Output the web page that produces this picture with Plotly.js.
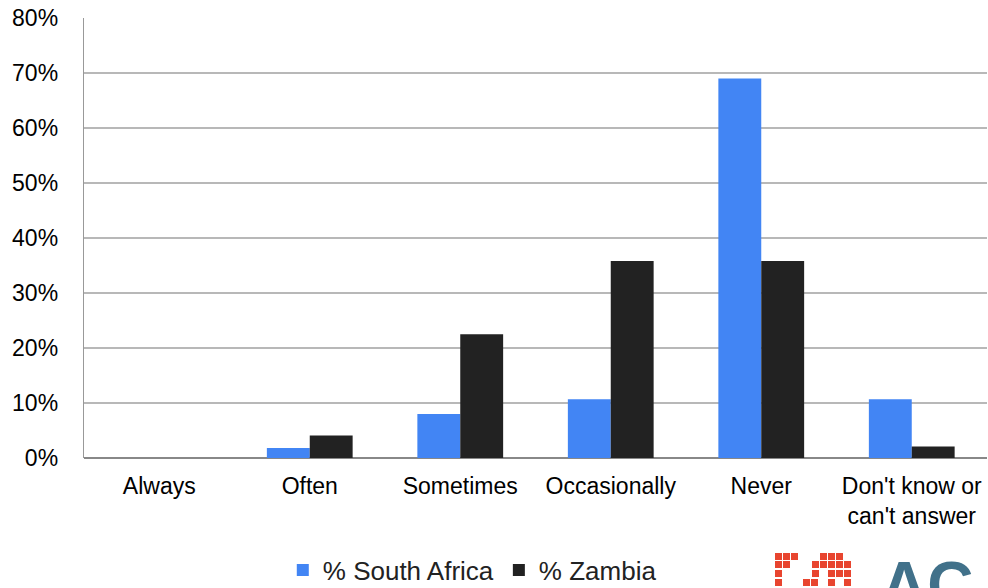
<!DOCTYPE html>
<html>
<head>
<meta charset="utf-8">
<script src="https://cdn.plot.ly/plotly-3.0.1.min.js"></script>
<style>html,body{margin:0;padding:0;background:#fff;}#chart{width:988px;height:588px;}</style>
</head>
<body>
<div id="chart"></div>
<script>
var categories = ["Always", "Often", "Sometimes", "Occasionally", "Never", "Don't know or<br>can't answer"];
var southAfrica = [0, 1.8, 8.0, 10.7, 69.0, 10.7];
var zambia = [0, 4.1, 22.5, 35.8, 35.8, 2.1];
var yTicks = [0, 10, 20, 30, 40, 50, 60, 70, 80];
var yTickLabels = ["0%", "10%", "20%", "30%", "40%", "50%", "60%", "70%", "80%"];

var traces = [
  {type: "bar", name: "% South Africa", x: categories, y: southAfrica, marker: {color: "#4285f4"}, hoverinfo: "none"},
  {type: "bar", name: "% Zambia", x: categories, y: zambia, marker: {color: "#222222"}, hoverinfo: "none"}
];

// decorative logo pixel blocks (pixel positions in the picture)
var shapes = [];
var red = "#e8452f";
var cell = 8;
var px = [
  [775,553],[783,553],[791,553],[820,553],[828,553],[836,553],
  [775,561],[783,561],[812,561],[820,561],[828,561],[836,561],[844,561],
  [775,570],[812,570],[828,570],[836,570],[844,570],
  [775,579],[803,579],[811,579],[828,579],[844,579]
];
px.forEach(function(p){
  shapes.push({type:"rect", xref:"paper", yref:"paper",
    x0:(p[0]-84)/903, x1:(p[0]+cell-1-84)/903, y0:(458-p[1])/440, y1:(458-p[1]-cell+1)/440,
    fillcolor:red, line:{width:0}, layer:"above"});
});

var layout = {
  width: 988, height: 588,
  margin: {l: 84, r: 1, t: 18, b: 130, autoexpand: false},
  paper_bgcolor: "#fff", plot_bgcolor: "#fff",
  font: {family: "Liberation Sans, Arial, sans-serif", color: "#000", size: 23},
  barmode: "group",
  bargap: 0.43,
  bargroupgap: 0,
  showlegend: true,
  legend: {orientation: "h", x: 0.43, xanchor: "center", y: -0.255, yanchor: "middle",
           font: {size: 26, color: "#222"}, tracegroupgap: 0, itemwidth: 30},
  xaxis: {tickfont: {size: 23, color: "#000"}, showgrid: false, showline: false, ticks: "",
          ticklabelstandoff: 12, automargin: false, fixedrange: true},
  yaxis: {range: [0, 80], tickvals: yTicks, ticktext: yTickLabels, tickfont: {size: 23, color: "#000"},
          showgrid: true, gridcolor: "#b8b8b8", gridwidth: 1.3,
          showline: true, linecolor: "#999", linewidth: 1.3,
          zeroline: true, zerolinecolor: "#888", zerolinewidth: 1.8,
          ticks: "", ticklabelstandoff: 20, automargin: false, fixedrange: true},
  shapes: shapes,
  annotations: [{xref: "paper", yref: "paper", x: (879-84)/903, y: (458-547)/440, xanchor: "left", yanchor: "top",
    text: "<b>AC</b>", showarrow: false, font: {size: 64, color: "#41718a", family: "Liberation Sans, Arial"}}]
};

Plotly.newPlot("chart", traces, layout, {displayModeBar: false, staticPlot: true});
</script>
</body>
</html>
